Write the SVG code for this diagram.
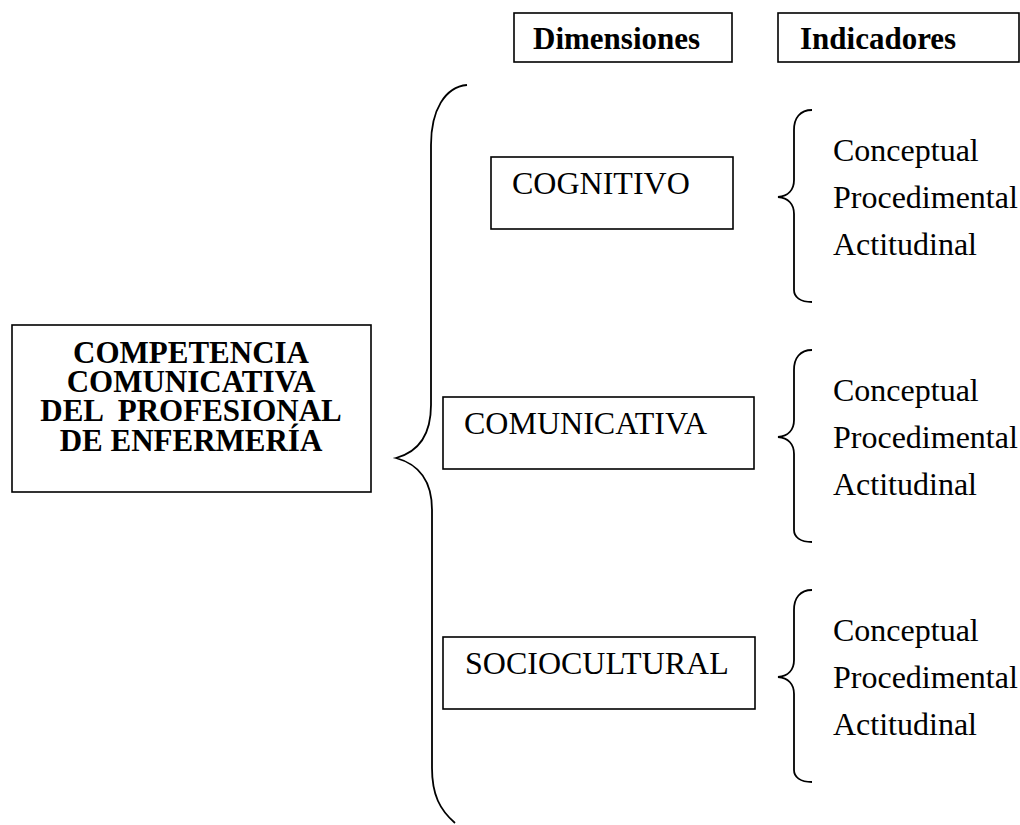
<svg xmlns="http://www.w3.org/2000/svg" width="1020" height="825" viewBox="0 0 1020 825">
<style>
.box{fill:#fff;stroke:#000;stroke-width:1.6}
.br{fill:none;stroke:#000;stroke-width:1.8}
.t{font-family:"Liberation Serif","Times New Roman",serif;font-size:32px;fill:#000}
.b{font-family:"Liberation Serif","Times New Roman",serif;font-size:31px;font-weight:bold;fill:#000}
</style>
<rect width="1020" height="825" fill="#fff"/>
<g id="hdr-dimensiones"><rect class="box" x="514" y="13" width="218" height="49"/><text class="b" x="533" y="49">Dimensiones</text></g>
<g id="hdr-indicadores"><rect class="box" x="778" y="13" width="241" height="49"/><text class="b" x="800" y="49">Indicadores</text></g>
<g id="main"><rect class="box" x="12" y="325" width="359" height="167"/>
<text class="b" text-anchor="middle" x="191" y="363">COMPETENCIA</text>
<text class="b" text-anchor="middle" x="191" y="392">COMUNICATIVA</text>
<text class="b" text-anchor="middle" x="191" y="421" xml:space="preserve">DEL  PROFESIONAL</text>
<text class="b" text-anchor="middle" x="191" y="451">DE ENFERMERÍA</text></g>
<g id="cognitivo"><rect class="box" x="491" y="157" width="242" height="72"/><text class="t" x="512" y="194">COGNITIVO</text></g>
<g id="comunicativa"><rect class="box" x="443" y="397" width="311" height="72"/><text class="t" x="464" y="434">COMUNICATIVA</text></g>
<g id="sociocultural"><rect class="box" x="443" y="637" width="312" height="72"/><text class="t" x="465" y="674">SOCIOCULTURAL</text></g>
<g id="ind1"><text class="t" x="833" y="161">Conceptual</text><text class="t" x="833" y="208">Procedimental</text><text class="t" x="833" y="255">Actitudinal</text></g>
<g id="ind2"><text class="t" x="833" y="401">Conceptual</text><text class="t" x="833" y="448">Procedimental</text><text class="t" x="833" y="495">Actitudinal</text></g>
<g id="ind3"><text class="t" x="833" y="641">Conceptual</text><text class="t" x="833" y="688">Procedimental</text><text class="t" x="833" y="735">Actitudinal</text></g>
<g id="connectors">
<path class="br" d="M467 85 C445 87 431 110 431 145 L431 405 C431 435 418 452 396 458 C418 464 432 480 432 510 L432 768 C432 795 440 810 455 823"/>
<path id="brace1" class="br" d="M812 110 C800 110 794 118 794 130 L794 180 C794 190 788 196 778 197 C788 198 794 204 794 214 L794 290 C794 297 800 302 812 302"/>
<use href="#brace1" y="240"/>
<use href="#brace1" y="480"/>
</g>
</svg>
